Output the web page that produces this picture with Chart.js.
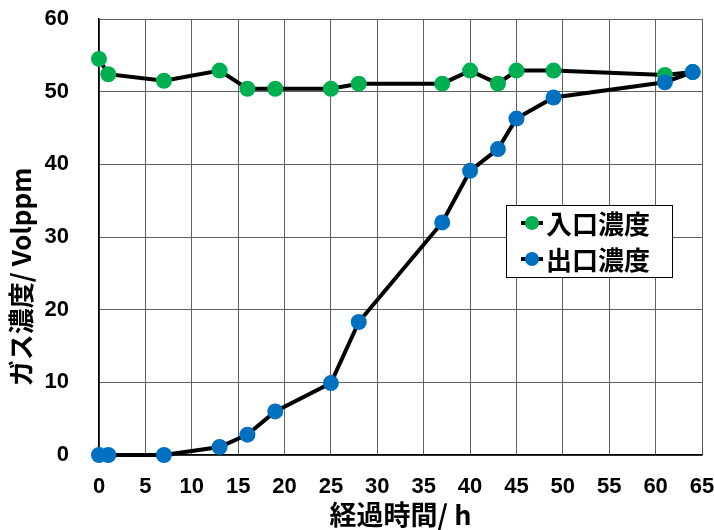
<!DOCTYPE html>
<html>
<head>
<meta charset="utf-8">
<style>
    html, body { margin: 0; padding: 0; background: #fff; }
    #wadah { width: 714px; height: 530px; position: relative; }
</style>
<script src="https://cdn.jsdelivr.net/npm/chart.js@4.4.1/dist/chart.umd.min.js"></script>
</head>
<body>
<div id="wadah"><canvas id="grafikGas"></canvas></div>
<script>
// --- DATA ---
var waktuJam = [0, 1, 7, 13, 16, 19, 25, 28, 37, 40, 43, 45, 49, 61, 64];
var konsentrasiMasuk = [54.5, 52.4, 51.5, 52.9, 50.4, 50.4, 50.4, 51.1, 51.1, 52.9, 51.1, 52.9, 52.9, 52.3, 52.7];
var konsentrasiKeluar = [0, 0, 0, 1.1, 2.8, 6.0, 9.9, 18.3, 32.0, 39.1, 42.1, 46.3, 49.2, 51.3, 52.7];
var namaSeri = ['入口濃度', '出口濃度'];
var warnaSeri = ['#00b050', '#0070c0'];
var judulX = '経過時間/ h';
var judulY = 'ガス濃度/ Volppm';

var hurufAngka = '"Liberation Sans", Arial, sans-serif';
var hurufJepang = '"Noto Sans CJK JP", "Liberation Sans", sans-serif';

function buatTitik(xs, ys) {
    return xs.map(function(x, i) { return { x: x, y: ys[i] }; });
}

// --- PLUGIN: JUDUL SUMBU DAN LEGENDA ---
var pluginHiasan = {
    id: 'hiasan',
    afterDraw: function(chart) {
        var ctx = chart.ctx;
        var area = chart.chartArea;
        ctx.save();
        ctx.fillStyle = '#000';

        // Judul sumbu X
        ctx.font = 'bold 27px ' + hurufJepang;
        ctx.textAlign = 'center';
        ctx.textBaseline = 'middle';
        ctx.fillText(judulX, (area.left + area.right) / 2, 515);

        // Judul sumbu Y (diputar)
        ctx.save();
        ctx.font = 'bold 26px ' + hurufJepang;
        ctx.translate(21, 277);
        ctx.rotate(-Math.PI / 2);
        ctx.fillText(judulY, 0, 0);
        ctx.restore();

        // Kotak legenda
        var kx = 506, ky = 205, kw = 166, kh = 72;
        ctx.fillStyle = '#fff';
        ctx.fillRect(kx, ky, kw, kh);
        ctx.strokeStyle = '#000';
        ctx.lineWidth = 1;
        ctx.strokeRect(kx + 0.5, ky + 0.5, kw, kh);

        var barisY = [223, 259];
        chart.data.datasets.forEach(function(ds, i) {
            var y = barisY[i];
            ctx.strokeStyle = '#000';
            ctx.lineWidth = 4;
            ctx.beginPath();
            ctx.moveTo(521, y);
            ctx.lineTo(543, y);
            ctx.stroke();
            ctx.fillStyle = ds.pointBackgroundColor;
            ctx.beginPath();
            ctx.arc(532, y, 7, 0, Math.PI * 2);
            ctx.fill();
            ctx.fillStyle = '#000';
            ctx.font = 'bold 26px ' + hurufJepang;
            ctx.textAlign = 'left';
            ctx.textBaseline = 'middle';
            ctx.fillText(ds.label, 546, y + 1);
        });
        ctx.restore();
    }
};

// --- INISIALISASI GRAFIK ---
var ctx = document.getElementById('grafikGas').getContext('2d');
var grafik = new Chart(ctx, {
    type: 'scatter',
    data: {
        datasets: [{
            label: namaSeri[0],
            data: buatTitik(waktuJam, konsentrasiMasuk),
            order: 2,
            showLine: true,
            clip: false,
            borderColor: '#000',
            borderWidth: 4,
            pointBackgroundColor: warnaSeri[0],
            pointBorderWidth: 0,
            pointRadius: 8,
            pointHoverRadius: 8
        }, {
            label: namaSeri[1],
            data: buatTitik(waktuJam, konsentrasiKeluar),
            order: 1,
            showLine: true,
            clip: false,
            borderColor: '#000',
            borderWidth: 4,
            pointBackgroundColor: warnaSeri[1],
            pointBorderWidth: 0,
            pointRadius: 8,
            pointHoverRadius: 8
        }]
    },
    options: {
        responsive: true,
        maintainAspectRatio: false,
        animation: false,
        layout: { padding: { top: 19, right: 12, left: 0, bottom: 0 } },
        scales: {
            x: {
                type: 'linear',
                min: 0,
                max: 65,
                afterFit: function(s) {
                    s.height = 75;
                    s.paddingLeft = 0;
                    s.paddingRight = 0;
                },
                ticks: {
                    stepSize: 5,
                    color: '#000',
                    font: { family: hurufAngka, size: 22, weight: 'bold' },
                    padding: 19,
                    maxRotation: 0
                },
                grid: { color: '#606060', lineWidth: 1, drawTicks: false },
                border: { color: '#000', width: 1.5 }
            },
            y: {
                min: 0,
                max: 60,
                afterFit: function(s) {
                    s.width = 99;
                    s.paddingTop = 0;
                    s.paddingBottom = 0;
                },
                ticks: {
                    stepSize: 10,
                    color: '#000',
                    font: { family: hurufAngka, size: 22, weight: 'bold' },
                    padding: 30
                },
                grid: { color: '#606060', lineWidth: 1, drawTicks: false },
                border: { color: '#000', width: 1.5 }
            }
        },
        plugins: {
            legend: { display: false },
            tooltip: { enabled: false }
        }
    },
    plugins: [pluginHiasan]
});
</script>
</body>
</html>
